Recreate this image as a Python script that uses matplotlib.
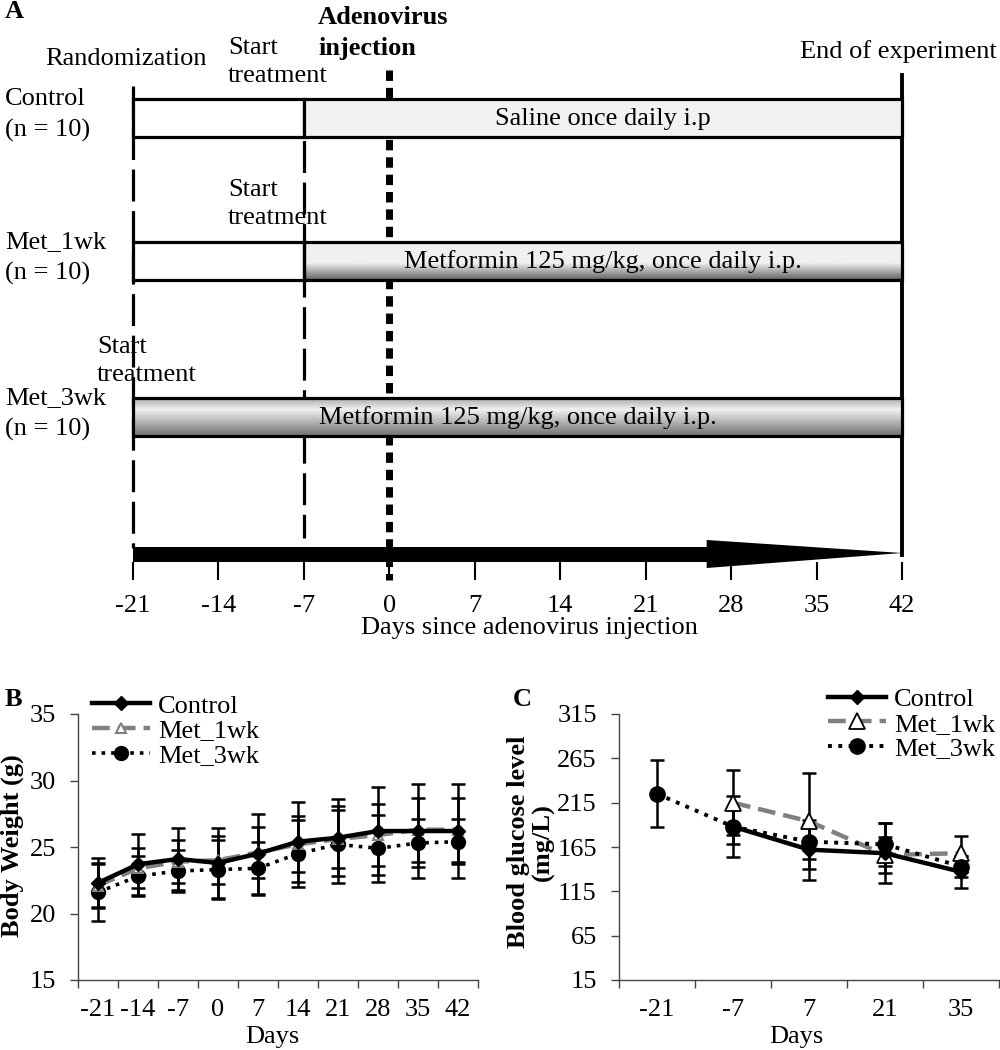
import numpy as np
import matplotlib
matplotlib.use('Agg')
from matplotlib import pyplot as plt
from matplotlib.patches import Rectangle, Polygon

plt.rcParams['font.family'] = ['Liberation Serif', 'DejaVu Serif']
plt.rcParams['font.size'] = 19

# panel A: study design
groups = ['Control\n(n = 10)', 'Met_1wk\n(n = 10)', 'Met_3wk\n(n = 10)']
treatment_start = [-7, -7, -21]
treatment_text = ['Saline once daily i.p',
                  'Metformin 125 mg/kg, once daily i.p.',
                  'Metformin 125 mg/kg, once daily i.p.']
randomization_day = -21
injection_day = 0
end_day = 42
timeline_days = [-21, -14, -7, 0, 7, 14, 21, 28, 35, 42]

# panel B: body weight (g)
bw_days = ['-21', '-14', '-7', '0', '7', '14', '21', '28', '35', '42']
bw_control = [22.3, 23.7, 24.1, 23.8, 24.5, 25.4, 25.7, 26.2, 26.2, 26.2]
bw_control_sd = [1.9, 2.3, 2.3, 2.6, 3.0, 3.0, 2.9, 3.3, 3.5, 3.5]
bw_met1 = [22.1, 23.4, 23.9, 24.0, 24.6, 25.2, 25.6, 25.9, 26.3, 26.3]
bw_met1_sd = [1.6, 1.5, 1.6, 1.8, 1.9, 2.1, 2.2, 2.3, 2.4, 2.4]
bw_met3 = [21.6, 22.8, 23.2, 23.3, 23.4, 24.5, 25.2, 24.9, 25.3, 25.4]
bw_met3_sd = [2.2, 1.5, 1.6, 2.2, 2.0, 2.5, 2.9, 2.5, 1.8, 1.7]

# panel C: blood glucose (mg/L)
bg_days = ['-21', '-7', '7', '21', '35']
bg_control = [np.nan, 188, 162, 158, 137]
bg_control_sd = [np.nan, 34, 34, 34, 18]
bg_met1 = [np.nan, 215, 194, 156, 158]
bg_met1_sd = [np.nan, 37, 54, 20, 19]
bg_met3 = [225, 188, 171, 168, 143]
bg_met3_sd = [38, 20, 20, 24, 12]

fig = plt.figure(figsize=(10, 10.5), dpi=100)

# ---------------- panel A ----------------
axA = fig.add_axes([0, 410 / 1050, 1, 640 / 1050])
ppd = (902 - 133) / 63
ty = axA.get_yaxis_transform()

# vertical markers
axA.plot([randomization_day] * 2, [86, 548], color='black', lw=2.3,
         ls=(0, (10, 3)), zorder=1)
axA.plot([treatment_start[0]] * 2, [99, 538], color='black', lw=2.3,
         ls=(0, (10, 3)), zorder=1)
axA.plot([injection_day] * 2, [70, 580], color='black', lw=5,
         ls=(0, (1.5, 1)), solid_capstyle='butt', zorder=1)
axA.plot([end_day] * 2, [75, 555], color='black', lw=2.8, zorder=1)

row_top = [99, 242, 398]
bar_h = 38
g = np.linspace(0, 1, 100)
fills = [
    None,
    np.where(g < 0.55, 0.94, 0.94 - (g - 0.55) / 0.45 * 0.56),
    np.where(g < 0.3, 0.68 + g / 0.3 * 0.26, 0.94 - (g - 0.3) / 0.7 * 0.5),
]
for i in range(3):
    y0 = row_top[i]
    s = treatment_start[i]
    if s > randomization_day:
        axA.add_patch(Rectangle((randomization_day, y0), s - randomization_day, bar_h,
                                facecolor='white', edgecolor='black', lw=2.3, zorder=3))
    if fills[i] is None:
        axA.add_patch(Rectangle((s, y0), end_day - s, bar_h, facecolor='#f2f2f2',
                                edgecolor='black', lw=2.3, zorder=3))
    else:
        axA.imshow(fills[i][:, None], cmap='gray', vmin=0, vmax=1, aspect='auto',
                   extent=(s, end_day, y0 + bar_h, y0), zorder=2.5, interpolation='bilinear')
        axA.add_patch(Rectangle((s, y0), end_day - s, bar_h, facecolor='none',
                                edgecolor='black', lw=2.3, zorder=3))
    axA.text((s + end_day) / 2, y0 + bar_h / 2 + 1, treatment_text[i],
             ha='center', va='center', zorder=4)
    axA.text(0.005, y0 + 16, groups[i], transform=ty, ha='left', va='center',
             linespacing=1.45)

axA.set_xlim(-21 - 133 / ppd, 42 + 98 / ppd)
axA.set_ylim(640, 0)

# annotations
axA.text(0.005, 12, 'A', transform=ty, weight='bold', va='center')
axA.text(0.045, 59, 'Randomization', transform=ty, va='center')
for xf, yc in [(0.228, 62), (0.228, 204), (0.097, 361)]:
    axA.text(xf, yc, 'Start\ntreatment', transform=ty, va='center', linespacing=1.4)
axA.text(0.318, 33, 'Adenovirus\ninjection', transform=ty, va='center',
         weight='bold', linespacing=1.4)
axA.text(0.8, 52, 'End of experiment', transform=ty, va='center')

# timeline arrow
head_start = 26
arrow = Polygon([(timeline_days[0], 547), (head_start, 547), (head_start, 540),
                 (timeline_days[-1], 553), (head_start, 568), (head_start, 562),
                 (timeline_days[0], 562)], closed=True, facecolor='black',
                edgecolor='none', zorder=3)
axA.add_patch(arrow)

axA.set_xticks(timeline_days)
axA.set_xticklabels([str(d) for d in timeline_days])
axA.get_xticklabels()[timeline_days.index(0)].set_fontweight('bold')
axA.set_yticks([])
for sp in ['top', 'right', 'left']:
    axA.spines[sp].set_visible(False)
axA.spines['bottom'].set_position(('data', 562))
axA.spines['bottom'].set_visible(False)
axA.tick_params(axis='x', length=13, width=1.5, direction='out', pad=11)
axA.text(11.5, 628, 'Days since adenovirus injection', ha='center', va='center')
axA.patch.set_visible(False)


def style_panel(ax, labels):
    n = len(labels)
    ax.set_xlim(-0.5, n - 0.5)
    ax.set_xticks(np.arange(-0.5, n, 1))
    ax.set_xticklabels([])
    ax.set_xticks(np.arange(n), minor=True)
    ax.set_xticklabels(labels, minor=True)
    ax.tick_params(axis='x', which='major', length=6, width=1, color='#444444')
    ax.tick_params(axis='x', which='minor', length=0, pad=14)
    ax.tick_params(axis='y', length=6, width=1, color='#444444', pad=10)
    for sp in ['top', 'right']:
        ax.spines[sp].set_visible(False)
    for sp in ['left', 'bottom']:
        ax.spines[sp].set_color('#444444')
        ax.spines[sp].set_linewidth(1)


# ---------------- panel B ----------------
axB = fig.add_axes([0.078, 70 / 1050, 0.4, 266 / 1050])
xb = np.arange(len(bw_days))
ekw = dict(fmt='none', ecolor='black', elinewidth=1.8, capsize=5, capthick=1.8)
axB.errorbar(xb, bw_control, yerr=bw_control_sd, zorder=2, **ekw)
axB.errorbar(xb, bw_met1, yerr=bw_met1_sd, zorder=2, **ekw)
axB.errorbar(xb, bw_met3, yerr=bw_met3_sd, zorder=2, **ekw)
axB.plot(xb, bw_met3, ls=':', color='black', lw=2.6, marker='o', ms=10,
         label='Met_3wk', zorder=3)
axB.plot(xb, bw_met1, ls=(0, (4, 1.8)), color='#808080', lw=3.2, marker='^', ms=7,
         mfc='white', mec='#808080', mew=1.5, label='Met_1wk', zorder=4)
axB.plot(xb, bw_control, ls='-', color='black', lw=3.2, marker='D', ms=7,
         label='Control', zorder=5)
axB.set_ylim(15, 35)
axB.set_yticks(np.arange(15, 36, 5))
style_panel(axB, bw_days)
h, l = axB.get_legend_handles_labels()
axB.legend(h[::-1], l[::-1], loc='upper left', bbox_to_anchor=(0.035, 1.075),
           frameon=False, handlelength=2.2, handletextpad=0.3, labelspacing=0.05,
           borderpad=0, borderaxespad=0)
fig.text(0.012, 1 - 846 / 1050, 'Body Weight (g)', rotation=90, ha='center',
         va='center', weight='bold')
fig.text(0.272, 1 - 1037 / 1050, 'Days', ha='center', va='center')
fig.text(0.005, 1 - 700 / 1050, 'B', weight='bold', va='center')

# ---------------- panel C ----------------
axC = fig.add_axes([0.619, 70 / 1050, 0.38, 266 / 1050])
xc = np.arange(len(bg_days))
axC.errorbar(xc, bg_control, yerr=bg_control_sd, zorder=2, **ekw)
axC.errorbar(xc, bg_met1, yerr=bg_met1_sd, zorder=2, **ekw)
axC.errorbar(xc, bg_met3, yerr=bg_met3_sd, zorder=2, **ekw)
axC.plot(xc, bg_met1, ls=(0, (4, 1.8)), color='#808080', lw=3.2, marker='^', ms=12,
         mfc='white', mec='black', mew=1.3, label='Met_1wk', zorder=3)
axC.plot(xc, bg_control, ls='-', color='black', lw=3.2, marker='D', ms=7,
         label='Control', zorder=4)
axC.plot(xc, bg_met3, ls=':', color='black', lw=2.8, marker='o', ms=11,
         label='Met_3wk', zorder=5)
axC.set_ylim(15, 315)
axC.set_yticks(np.arange(15, 316, 50))
style_panel(axC, bg_days)
h, l = axC.get_legend_handles_labels()
order = [1, 0, 2]
axC.legend([h[i] for i in order], [l[i] for i in order], loc='upper left',
           bbox_to_anchor=(0.55, 1.1), frameon=False, handlelength=2.2,
           handletextpad=0.3, labelspacing=0.05, borderpad=0, borderaxespad=0)
fig.text(0.531, 1 - 842 / 1050, 'Blood glucose level\n(mg/L)', rotation=90,
         ha='center', va='center', weight='bold', linespacing=1.05)
fig.text(0.796, 1 - 1037 / 1050, 'Days', ha='center', va='center')
fig.text(0.513, 1 - 700 / 1050, 'C', weight='bold', va='center')

fig.savefig('out.png', dpi=100)
